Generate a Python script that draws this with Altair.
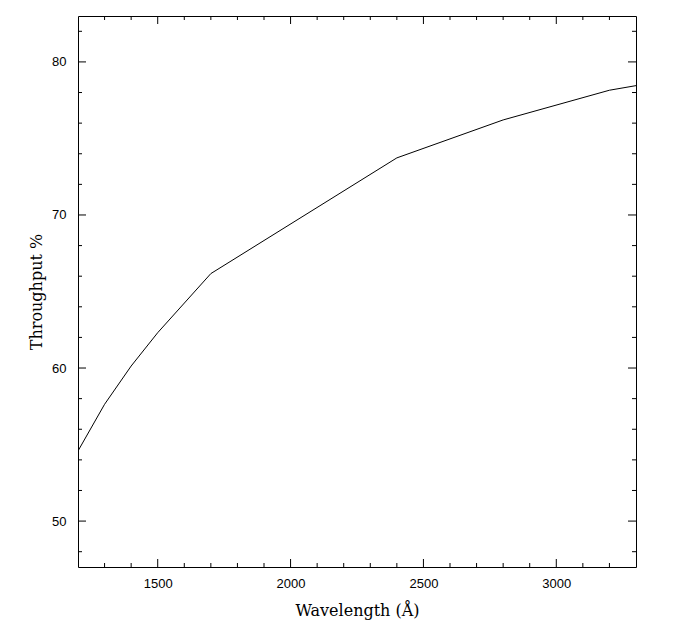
import altair as alt
import pandas as pd

# data
wavelength = [1200, 1300, 1400, 1500, 1700, 2400, 2800, 3200, 3300]
throughput = [54.58, 57.63, 60.13, 62.31, 66.17, 73.73, 76.21, 78.15, 78.45]

x_major = [1500, 2000, 2500, 3000]
x_minor = [1300, 1400, 1600, 1700, 1800, 1900, 2100, 2200, 2300, 2400,
           2600, 2700, 2800, 2900, 3100, 3200]
y_major = [50, 60, 70, 80]
y_minor = [48, 52, 54, 56, 58, 62, 64, 66, 68, 72, 74, 76, 78, 82]

W, H = 558, 551
XDOM = [1200, 3300]
YDOM = [47, 83]
XT = "Wavelength (Å)"
YT = "Throughput %"

df = pd.DataFrame({"w": wavelength, "t": throughput})
xs = alt.Scale(domain=XDOM, nice=False, zero=False)
ys = alt.Scale(domain=YDOM, nice=False, zero=False)

xaxis = alt.Axis(values=x_major, format="d", ticks=False, domain=False, grid=False,
                 labelFont="Liberation Sans", labelFontSize=13,
                 labelColor="black", labelPadding=10,
                 titleFont="DejaVu Serif", titleFontSize=16,
                 titleFontWeight="normal", titleColor="black",
                 titlePadding=12)
yaxis = alt.Axis(values=y_major, format="d", ticks=False, domain=False, grid=False,
                 labelFont="Liberation Sans", labelFontSize=13,
                 labelColor="black", labelPadding=12,
                 titleFont="DejaVu Serif", titleFontSize=16,
                 titleFontWeight="normal", titleColor="black",
                 titlePadding=7)

line = alt.Chart(df).mark_line(color="black", strokeWidth=1, clip=True).encode(
    x=alt.X("w:Q", scale=xs, title=XT, axis=xaxis),
    y=alt.Y("t:Q", scale=ys, title=YT, axis=yaxis),
)

def xticks(vals, length):
    d = pd.DataFrame({"v": vals})
    bottom = alt.Chart(d).mark_rule(color="black", strokeWidth=1).encode(
        x=alt.X("v:Q", scale=xs, title=XT, axis=xaxis),
        y=alt.value(H), y2=alt.value(H - length))
    top = alt.Chart(d).mark_rule(color="black", strokeWidth=1).encode(
        x=alt.X("v:Q", scale=xs, title=XT, axis=xaxis),
        y=alt.value(0), y2=alt.value(length))
    return [bottom, top]

def yticks(vals, length):
    d = pd.DataFrame({"v": vals})
    left = alt.Chart(d).mark_rule(color="black", strokeWidth=1).encode(
        y=alt.Y("v:Q", scale=ys, title=YT, axis=yaxis),
        x=alt.value(0), x2=alt.value(length))
    right = alt.Chart(d).mark_rule(color="black", strokeWidth=1).encode(
        y=alt.Y("v:Q", scale=ys, title=YT, axis=yaxis),
        x=alt.value(W), x2=alt.value(W - length))
    return [left, right]

layers = [line] + xticks(x_major, 8) + xticks(x_minor, 4) + yticks(y_major, 8) + yticks(y_minor, 4)

chart = alt.layer(*layers).properties(
    width=W, height=H,
    autosize=alt.AutoSizeParams(type="none"),
    padding={"left": 70, "top": 8, "right": 40, "bottom": 60},
    background="white",
).configure_view(stroke="black", strokeWidth=1)

chart.save("out.html", embed_options={"renderer": "svg", "actions": False})
